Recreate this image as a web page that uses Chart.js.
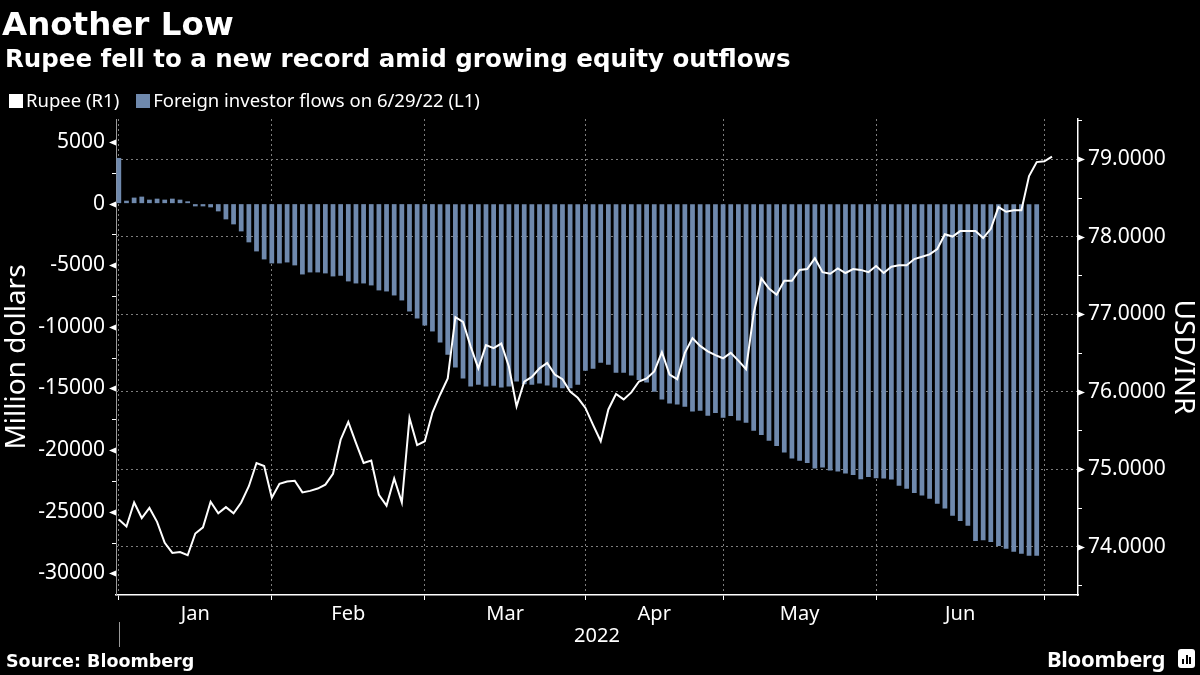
<!DOCTYPE html>
<html>
<head>
<meta charset="utf-8">
<script src="https://cdn.jsdelivr.net/npm/chart.js@4.4.1/dist/chart.umd.min.js"></script>
<style>
  html, body { margin: 0; padding: 0; background: #000; }
  #wrap { position: relative; width: 1200px; height: 675px; background: #000; overflow: hidden; font-family: "Noto Sans", sans-serif; color: #fff; }
  #chart { position: absolute; left: 0; top: 0; }
  .txt { position: absolute; white-space: nowrap; line-height: 1; }
  #title { left: 2px; top: 8px; font-family: "DejaVu Sans", sans-serif; font-size: 32.5px; font-weight: 700; }
  #subtitle { left: 5px; top: 47px; font-family: "DejaVu Sans", sans-serif; font-size: 24.5px; font-weight: 700; }
  #legend { left: 9px; top: 91px; font-size: 18.5px; display: flex; }
  #legend span.item { display: flex; align-items: center; margin-right: 17px; }
  #legend i { display: inline-block; width: 14px; height: 14px; margin-right: 3px; margin-top: 1px; }
  #source { left: 6px; top: 653px; font-family: "DejaVu Sans", sans-serif; font-size: 17.5px; font-weight: 700; }
  #logo { left: 1047px; top: 647px; font-size: 22px; font-weight: 700; letter-spacing: -0.3px; }
  #icon { position: absolute; left: 1178px; top: 649px; width: 17px; height: 19px; background: #fff; border-radius: 3px; }
  #icon b { position: absolute; bottom: 4px; width: 2px; background: #000; }
</style>
</head>
<body>
<div id="wrap">
  <canvas id="chart" width="1200" height="675"></canvas>
  <div class="txt" id="title">Another Low</div>
  <div class="txt" id="subtitle">Rupee fell to a new record amid growing equity outflows</div>
  <div class="txt" id="legend"></div>
  <div class="txt" id="source">Source: Bloomberg</div>
  <div class="txt" id="logo">Bloomberg</div>
  <div id="icon"><b style="left:4px;height:5px"></b><b style="left:7.5px;height:9px"></b><b style="left:11px;height:7px"></b></div>
</div>
<script>
// x positions are trading-day slots (0 = first session shown)
const months = ['Jan', 'Feb', 'Mar', 'Apr', 'May', 'Jun'];
const monthStarts = [0, 20, 40, 61, 79, 99, 121];
const yearLabel = '2022';

const leftTicks = [5000, 0, -5000, -10000, -15000, -20000, -25000, -30000];
const rightTicks = [74, 75, 76, 77, 78, 79];

const seriesNames = ['Rupee (R1)', 'Foreign investor flows on 6/29/22 (L1)'];
const seriesColors = ['#ffffff', '#6f89ad'];

// USD/INR
const rupee = [
  74.35, 74.26, 74.57, 74.37, 74.50, 74.32, 74.05, 73.92, 73.93, 73.89,
  74.17, 74.25, 74.58, 74.43, 74.51, 74.43, 74.57, 74.78, 75.08, 75.04,
  74.63, 74.81, 74.84, 74.85, 74.70, 74.72, 74.75, 74.80, 74.94, 75.38,
  75.61, 75.34, 75.08, 75.11, 74.67, 74.53, 74.88, 74.57, 75.66, 75.31,
  75.36, 75.73, 75.96, 76.17, 76.96, 76.90, 76.58, 76.30, 76.60, 76.56,
  76.62, 76.32, 75.81, 76.13, 76.19, 76.30, 76.37, 76.22, 76.16, 76.00,
  75.92, 75.79, 75.57, 75.36, 75.77, 75.97, 75.90, 75.99, 76.13, 76.17,
  76.26, 76.51, 76.22, 76.16, 76.50, 76.69, 76.59, 76.52, 76.47, 76.43,
  76.50, 76.40, 76.29, 77.01, 77.46, 77.33, 77.25, 77.43, 77.43, 77.57,
  77.58, 77.72, 77.54, 77.52, 77.59, 77.53, 77.58, 77.57, 77.54, 77.62,
  77.53, 77.61, 77.63, 77.63, 77.71, 77.74, 77.77, 77.84, 78.03, 78.00,
  78.07, 78.07, 78.07, 77.98, 78.10, 78.38, 78.32, 78.34, 78.34, 78.78,
  78.96, 78.97, 79.03
];

// cumulative foreign investor equity flows, million dollars
const flows = [
  3710, 240, 490, 570, 325, 405, 325, 405, 325, 190,
  -220, -220, -300, -625, -1275, -1680, -2250, -3140, -3875, -4525,
  -4850, -4850, -4770, -5010, -5745, -5580, -5580, -5660, -5905, -5850,
  -6310, -6475, -6475, -6635, -7040, -7125, -7450, -7855, -8750, -9320,
  -9890, -10370, -11265, -12265, -13295, -14190, -14840, -14700, -14840, -14785,
  -14920, -14840, -14435, -14650, -14700, -14600, -14760, -14920, -14975, -14975,
  -14700, -13565, -13400, -12915, -13080, -13730, -13730, -13945, -14320, -14515,
  -15270, -15900, -16220, -16305, -16490, -16870, -16815, -17210, -16980, -17380,
  -17225, -17600, -17790, -18440, -18765, -19250, -19660, -20200, -20690, -20875,
  -21040, -21500, -21420, -21660, -21745, -21905, -22015, -22365, -22180, -22285,
  -22315, -22395, -22885, -23130, -23475, -23695, -23940, -24345, -24750, -25320,
  -25750, -26130, -27375, -27320, -27460, -27785, -28000, -28245, -28410, -28570,
  -28570
];

const monthMids = months.map((m, i) => (monthStarts[i] + monthStarts[i + 1]) / 2);
const GRID = '#7d7d7d';

// legend
const legendEl = document.getElementById('legend');
seriesNames.forEach((name, i) => {
  const s = document.createElement('span');
  s.className = 'item';
  s.innerHTML = '<i style="background:' + seriesColors[i] + '"></i>' + name;
  legendEl.appendChild(s);
});

// triangles / small ticks on the value axes, year caption under the months
const axisMarks = {
  id: 'axisMarks',
  afterDraw(chart) {
    const ctx = chart.ctx;
    ctx.save();
    ctx.fillStyle = '#fff';
    ctx.strokeStyle = '#fff';
    ctx.lineWidth = 1;
    [['yL', leftTicks, -1], ['yR', rightTicks, 1]].forEach(([id, majors, dir]) => {
      const s = chart.scales[id];
      const x0 = dir < 0 ? s.right : s.left;
      s.ticks.forEach(t => {
        const y = Math.round(s.getPixelForValue(t.value)) + 0.5;
        if (majors.includes(t.value)) {
          ctx.beginPath();
          ctx.moveTo(x0, y - 3);
          ctx.lineTo(x0, y + 3);
          ctx.lineTo(x0 + dir * 7, y);
          ctx.closePath();
          ctx.fill();
        } else {
          ctx.beginPath();
          ctx.moveTo(x0, y);
          ctx.lineTo(x0 + dir * 4, y);
          ctx.stroke();
        }
      });
    });
    const x = chart.scales.x;
    const x0 = Math.round(x.getPixelForValue(monthStarts[0])) + 0.5;
    ctx.strokeStyle = '#9a9a9a';
    ctx.beginPath();
    ctx.moveTo(x0, 622);
    ctx.lineTo(x0, 647);
    ctx.stroke();
    ctx.font = '20px "Noto Sans"';
    ctx.textAlign = 'center';
    ctx.textBaseline = 'alphabetic';
    ctx.fillText(yearLabel, (chart.chartArea.left + chart.chartArea.right) / 2, 642);
    ctx.restore();
  }
};

const ctx = document.getElementById('chart');
new Chart(ctx, {
  type: 'bar',
  data: {
    datasets: [
      {
        type: 'line',
        label: seriesNames[0],
        data: rupee.map((v, i) => ({ x: i, y: v })),
        yAxisID: 'yR',
        borderColor: seriesColors[0],
        borderWidth: 2,
        pointRadius: 0,
        tension: 0,
        order: 0
      },
      {
        type: 'bar',
        label: seriesNames[1],
        data: flows.map((v, i) => ({ x: i, y: v })),
        yAxisID: 'yL',
        backgroundColor: seriesColors[1],
        barPercentage: 0.62,
        categoryPercentage: 1,
        order: 1
      }
    ]
  },
  options: {
    responsive: false,
    animation: false,
    devicePixelRatio: 1,
    layout: { padding: { top: 119, left: 0, right: 0, bottom: 0 } },
    plugins: { legend: { display: false }, tooltip: { enabled: false } },
    scales: {
      x: {
        type: 'linear',
        position: 'bottom',
        min: -0.37,
        max: 125.4,
        offset: false,
        afterBuildTicks: s => {
          s.ticks = monthStarts.concat(monthMids).sort((a, b) => a - b).map(v => ({ value: v }));
        },
        afterFit: s => { s.height = 80; },
        ticks: {
          autoSkip: false,
          maxRotation: 0,
          minRotation: 0,
          padding: 2,
          color: '#fff',
          font: { family: 'Noto Sans', size: 20 },
          callback: v => {
            const i = monthMids.indexOf(v);
            return i >= 0 ? months[i] : '';
          }
        },
        grid: {
          offset: false,
          drawOnChartArea: true,
          tickLength: 5,
          color: c => monthStarts.includes(c.tick && c.tick.value) ? GRID : 'transparent',
          tickColor: c => monthStarts.includes(c.tick && c.tick.value) ? '#fff' : 'transparent'
        },
        border: { display: true, color: '#fff', width: 1.5, dash: [2, 3] }
      },
      yL: {
        type: 'linear',
        position: 'left',
        min: -31760,
        max: 6870,
        afterBuildTicks: s => {
          const t = [];
          for (let v = -30000; v <= 5000; v += 2500) t.push({ value: v });
          s.ticks = t;
        },
        afterFit: s => { s.width = 116; },
        ticks: {
          padding: 11,
          color: '#fff',
          font: { family: 'Noto Sans', size: 21 },
          callback: v => leftTicks.includes(v) ? String(v) : ''
        },
        grid: { drawOnChartArea: false, drawTicks: false },
        border: { display: true, color: '#9a9a9a', width: 1 },
        title: {
          display: true,
          text: 'Million dollars',
          color: '#fff',
          font: { family: 'Noto Sans', size: 28 },
          padding: { top: 0, bottom: 0 }
        }
      },
      yR: {
        type: 'linear',
        position: 'right',
        min: 73.377,
        max: 79.516,
        afterBuildTicks: s => {
          const t = [];
          rightTicks.forEach(v => { t.push({ value: v - 0.5 }); t.push({ value: v }); });
          t.push({ value: rightTicks[rightTicks.length - 1] + 0.5 });
          s.ticks = t.filter(o => o.value >= s.min && o.value <= s.max);
        },
        afterFit: s => { s.width = 122; },
        ticks: {
          padding: 10,
          color: '#fff',
          font: { family: 'Noto Sans', size: 21 },
          callback: v => rightTicks.includes(v) ? v.toFixed(4) : ''
        },
        grid: {
          drawOnChartArea: true,
          drawTicks: false,
          color: c => rightTicks.includes(c.tick && c.tick.value) ? GRID : 'transparent'
        },
        border: { display: true, color: '#fff', width: 1.5, dash: [2, 3] },
        title: {
          display: true,
          text: 'USD/INR',
          color: '#fff',
          font: { family: 'Noto Sans', size: 28 },
          padding: { top: 0, bottom: 4 }
        }
      }
    }
  },
  plugins: [axisMarks]
});
</script>
</body>
</html>
